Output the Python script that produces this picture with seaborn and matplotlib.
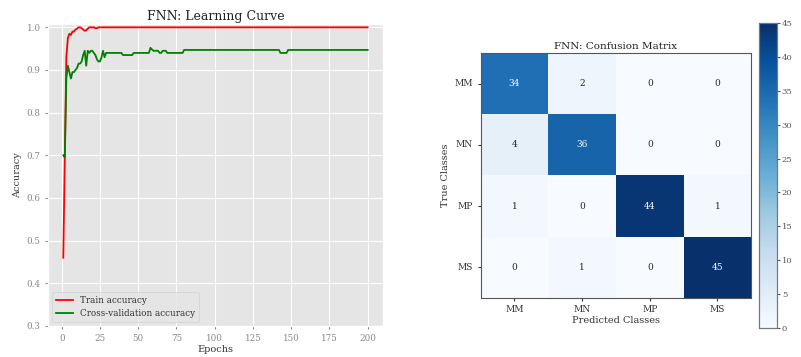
import numpy as np
import pandas as pd
import matplotlib
matplotlib.use("Agg")
import matplotlib.pyplot as plt
import seaborn as sns

# ---------------- data ----------------
epochs = list(range(1, 201))

train_early = [0.46, 0.70, 0.93, 0.975, 0.985, 0.982, 0.99, 0.99, 0.995, 0.997,
               1.0, 1.0, 0.998, 0.995, 0.992, 0.993, 0.997, 1.0, 1.0, 1.0,
               1.0, 0.998, 0.998, 1.0, 1.0]
train_acc = train_early + [1.0] * (200 - len(train_early))

val_early = [0.70, 0.695, 0.88, 0.91, 0.895, 0.88, 0.895, 0.895, 0.90, 0.905,
             0.915, 0.915, 0.92, 0.935, 0.945, 0.91, 0.945, 0.94, 0.945, 0.945,
             0.94, 0.935, 0.925, 0.92, 0.92, 0.93, 0.945, 0.93, 0.94]
val_mid = ([0.94] * 10 + [0.935] * 7 + [0.94] * 11 + [0.952, 0.948] +
           [0.945] * 4 + [0.94] * 2 + [0.945] * 3 + [0.94] * 11)
val_late_a = [0.947] * 63
val_dip = [0.94] * 5
val_acc = val_early + val_mid + val_late_a + val_dip
val_acc = val_acc + [0.947] * (200 - len(val_acc))

classes = ["MM", "MN", "MP", "MS"]
cm_values = [[34, 2, 0, 0],
             [4, 36, 0, 0],
             [1, 0, 44, 1],
             [0, 1, 0, 45]]
cbar_ticks = [0, 5, 10, 15, 20, 25, 30, 35, 40, 45]

# ---------------- style ----------------
plt.style.use("ggplot")
plt.rcParams["font.family"] = ["DejaVu Serif"]

fig = plt.figure(figsize=(8.01, 3.57), dpi=100)

# learning curve
ax1 = fig.add_axes([0.060, 0.087, 0.418, 0.846])
df = pd.DataFrame({"Epochs": epochs * 2,
                   "Accuracy": train_acc + val_acc,
                   "series": ["Train accuracy"] * 200 + ["Cross-validation accuracy"] * 200})
sns.lineplot(data=df, x="Epochs", y="Accuracy", hue="series",
             palette={"Train accuracy": "red", "Cross-validation accuracy": "green"},
             linewidth=1.3, ax=ax1)
ax1.set_ylim(0.3, 1.008)
ax1.set_xticks([0, 25, 50, 75, 100, 125, 150, 175, 200])
ax1.set_title("FNN: Learning Curve", fontsize=9, color="#222222", pad=3)
ax1.set_xlabel("Epochs", fontsize=7, color="#333333", labelpad=2)
ax1.set_ylabel("Accuracy", fontsize=7, color="#333333", labelpad=3)
ax1.tick_params(labelsize=6.3, colors="#888888", length=2)
leg = ax1.legend(loc="lower left", fontsize=6.3, frameon=True, borderpad=0.4,
                 handlelength=2)
for t in leg.get_texts():
    t.set_color("#333333")

# confusion matrix
ax2 = fig.add_axes([0.600, 0.166, 0.338, 0.685])
cax = fig.add_axes([0.948, 0.082, 0.022, 0.853])
cm_df = pd.DataFrame(cm_values, index=classes, columns=classes)
sns.heatmap(cm_df, cmap="Blues", vmin=0, vmax=45, annot=True, fmt="d",
            annot_kws={"fontsize": 6.5}, cbar_ax=cax, ax=ax2, square=False)
ax2.set_title("FNN: Confusion Matrix", fontsize=7.5, color="#222222", pad=3)
ax2.set_xlabel("Predicted Classes", fontsize=7, color="#333333", labelpad=1)
ax2.set_ylabel("True Classes", fontsize=7, color="#333333", labelpad=3)
ax2.tick_params(labelsize=6.5, colors="#333333", length=2)
ax2.set_yticklabels(classes, rotation=0)
ax2.set_xticklabels(classes, rotation=0)
ax2.grid(False)
for s in ax2.spines.values():
    s.set_visible(True)
    s.set_color("#555555")
    s.set_linewidth(0.8)

cax.set_yticks(cbar_ticks)
cax.tick_params(labelsize=6, colors="#555555", length=2, pad=1.5)
cax.grid(False)
for s in cax.spines.values():
    s.set_visible(True)
    s.set_color("#777777")
    s.set_linewidth(0.8)

fig.savefig("out.png", dpi=100, facecolor="white")
